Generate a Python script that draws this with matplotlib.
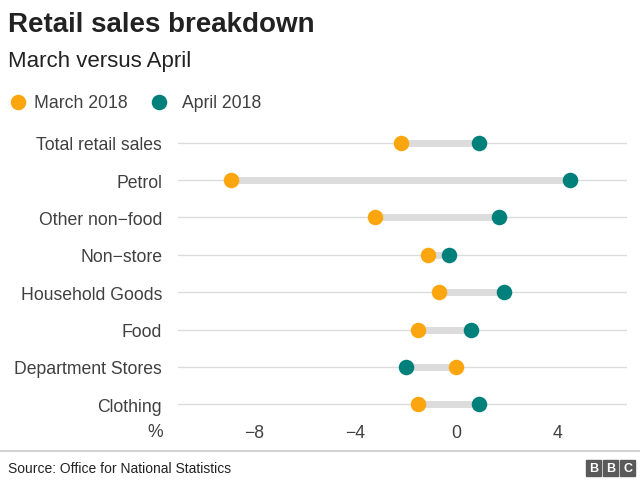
import matplotlib.pyplot as plt
from matplotlib.patches import Rectangle

categories = ["Total retail sales", "Petrol", "Other non\u2212food", "Non\u2212store",
              "Household Goods", "Food", "Department Stores", "Clothing"]
march = [-2.2, -8.9, -3.2, -1.1, -0.7, -1.5, 0.0, -1.5]
april = [0.9, 4.5, 1.7, -0.3, 1.9, 0.6, -2.0, 0.9]
ticks = [-8, -4, 0, 4]
tick_labels = ["\u22128", "\u22124", "0", "4"]

orange = "#fca60f"
teal = "#00807a"
txt = "#404040"

plt.rcParams['font.family'] = ['Liberation Sans', 'DejaVu Sans']

fig = plt.figure(figsize=(6.4, 4.85), dpi=100)
ax = fig.add_axes([178/640, 1-422/485, (627-178)/640, (422-127)/485])

y = list(range(len(categories)))[::-1]
ax.set_xlim(-11.0, 6.75)
ax.set_ylim(-0.45, len(categories) - 0.55)

for yi in y:
    ax.axhline(yi, color="#dcdcdc", lw=1, zorder=0)
for yi, m, a in zip(y, march, april):
    ax.plot([m, a], [yi, yi], color="#dcdcdc", lw=5, solid_capstyle="butt", zorder=1)
ax.scatter(march, y, s=125, color=orange, zorder=3, linewidths=0)
ax.scatter(april, y, s=125, color=teal, zorder=3, linewidths=0)

ax.set_yticks(y)
ax.set_yticklabels(categories, fontsize=12.7, color=txt)
ax.set_xticks(ticks)
ax.set_xticklabels(tick_labels, fontsize=12.7, color=txt)
ax.tick_params(length=0, pad=2)
ax.tick_params(axis="y", pad=11.5)
for s in ax.spines.values():
    s.set_visible(False)

fig.text(8/640, 1-25/485, "Retail sales breakdown", fontsize=20, fontweight="bold",
         color="#222222", va="center")
fig.text(8/640, 1-62/485, "March versus April", fontsize=16, color="#222222", va="center")

# legend
lx = fig.add_axes([0, 0, 1, 1], facecolor="none")
lx.set_xlim(0, 640)
lx.set_ylim(485, 0)
lx.axis("off")
lx.scatter([18], [103], s=125, color=orange, linewidths=0)
lx.text(34, 104, "March 2018", fontsize=12.7, color=txt, va="center")
lx.scatter([159], [103], s=125, color=teal, linewidths=0)
lx.text(182, 104, "April 2018", fontsize=12.7, color=txt, va="center")

lx.text(155, 433, "%", fontsize=12.7, color=txt, va="center", ha="center")

# footer
lx.plot([0, 640], [452, 452], color="#c8c8c8", lw=1.2)
lx.text(8, 469, "Source: Office for National Statistics", fontsize=10, color="#222222",
        va="center")
for i, ch in enumerate("BBC"):
    x0 = 586 + i * 17
    lx.add_patch(Rectangle((x0, 461), 15, 16, color="#5a5a5a"))
    lx.text(x0 + 7.5, 469.5, ch, fontsize=9, fontweight="bold", color="white",
            ha="center", va="center")

fig.savefig("out.png", dpi=100, facecolor="white")
